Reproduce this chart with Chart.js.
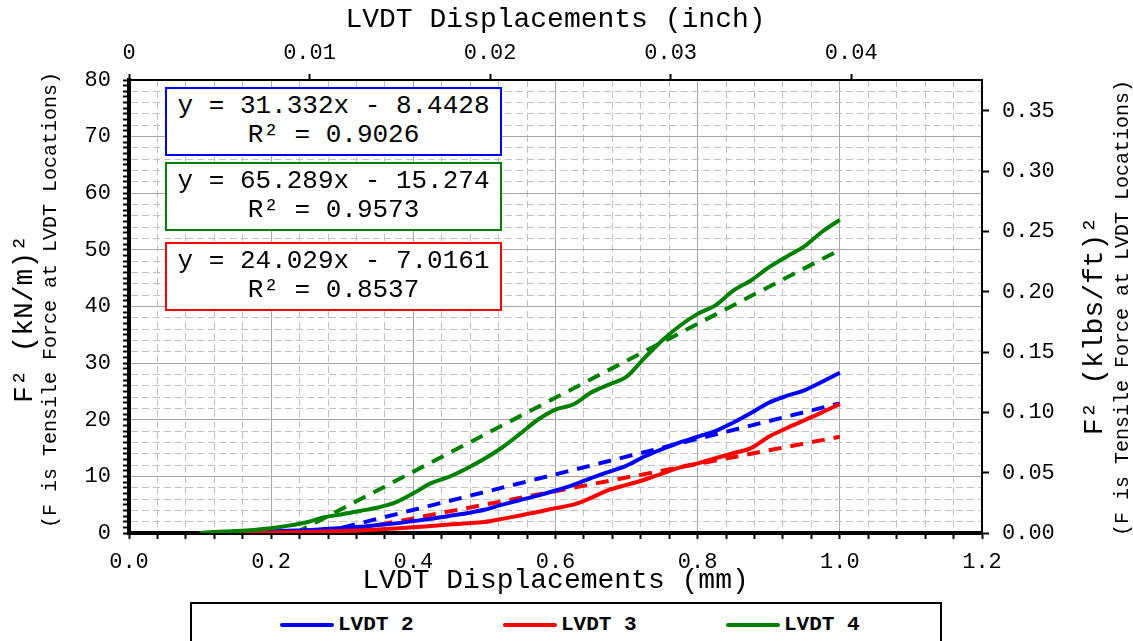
<!DOCTYPE html>
<html>
<head>
<meta charset="utf-8">
<script src="https://cdn.jsdelivr.net/npm/chart.js@4.4.0/dist/chart.umd.min.js"></script>
<style>
  html, body { margin: 0; padding: 0; background: #fff; }
  #wrap { position: relative; width: 1133px; height: 641px; overflow: hidden; }
  #wrap canvas { position: absolute; left: 0; top: 0; }
  .eq {
    position: absolute; left: 165px; width: 337px; height: 69px;
    box-sizing: border-box; border: 2px solid; background: #fff;
    font: 26px 'Liberation Mono', monospace; line-height: 29px;
    text-align: center; padding-top: 3px; color: #000; white-space: pre;
  }
  #legend {
    position: absolute; left: 190px; top: 602px; width: 752px; height: 60px;
    box-sizing: border-box; border: 2px solid #000; background: #fff;
  }
  .item { position: absolute; top: 9px; height: 24px; font: bold 21px 'Liberation Mono', monospace; line-height: 24px; color: #000; }
  .item i { position: absolute; left: 0; top: 10px; width: 54px; height: 4px; border-radius: 2px; }
  .item span { position: absolute; left: 58px; top: 0; white-space: pre; }
</style>
</head>
<body>
<div id="wrap">
  <canvas id="lvdtChart" width="1133" height="641"></canvas>
  <div id="boxes"></div>
  <div id="legend"></div>
</div>
<script>
// displacement (mm) where the curves were read
const displacement = [0.100, 0.125, 0.150, 0.175, 0.200, 0.225, 0.250, 0.275, 0.300, 0.325,
  0.350, 0.375, 0.400, 0.425, 0.450, 0.475, 0.500, 0.525, 0.550, 0.575,
  0.600, 0.625, 0.650, 0.675, 0.700, 0.725, 0.750, 0.775, 0.800, 0.825,
  0.850, 0.875, 0.900, 0.925, 0.950, 0.975, 1.000];

// F^2 (kN/m)^2
const lvdt2 = [0.0, 0.05, 0.1, 0.2, 0.3, 0.4, 0.5, 0.7, 0.9, 1.1,
  1.4, 1.7, 2.1, 2.5, 3.0, 3.5, 4.1, 5.0, 5.8, 6.6,
  7.5, 8.5, 9.7, 10.8, 11.9, 13.5, 14.8, 16.0, 17.0, 18.0,
  19.5, 21.2, 23.0, 24.2, 25.2, 26.7, 28.3];
const lvdt3 = [0.0, 0.0, 0.02, 0.05, 0.08, 0.12, 0.17, 0.25, 0.35, 0.45,
  0.6, 0.8, 1.0, 1.25, 1.5, 1.7, 1.95, 2.5, 3.1, 3.7,
  4.4, 5.0, 6.2, 7.6, 8.5, 9.4, 10.5, 11.6, 12.3, 13.2,
  14.1, 15.0, 17.0, 18.5, 19.9, 21.3, 22.8];
const lvdt4 = [0.0, 0.2, 0.35, 0.55, 0.85, 1.3, 1.9, 2.8, 3.3, 3.9,
  4.5, 5.4, 7.0, 8.8, 9.9, 11.4, 13.1, 15.1, 17.5, 20.0,
  21.8, 22.7, 24.8, 26.2, 27.6, 30.9, 34.0, 36.6, 38.7, 40.2,
  42.8, 44.6, 46.9, 48.8, 50.6, 53.2, 55.3];

// linear trend lines (start and end points)
const trend2X = [0.270, 1.000], trend2Y = [0, 22.9];
const trend3X = [0.292, 1.000], trend3Y = [0, 17.0];
const trend4X = [0.234, 1.000], trend4Y = [0, 50.0];

const trendText = [
  ['y = 31.332x - 8.4428', 'R² = 0.9026'],
  ['y = 65.289x - 15.274', 'R² = 0.9573'],
  ['y = 24.029x - 7.0161', 'R² = 0.8537']
];
const seriesNames = ['LVDT 2', 'LVDT 3', 'LVDT 4'];

const BLUE = '#0000ff', RED = '#ff0000', GREEN = '#008000';
const FONT = "'Liberation Mono', monospace";
const MM_PER_INCH = 25.4;
const KNM2_TO_KLBSFT2 = 0.0046953;  // (kN/m)^2 -> (klbs/ft)^2

const pts = (xs, ys) => xs.map((x, i) => ({ x: x, y: ys[i] }));
const onStep = (v, step) => Math.abs(v / step - Math.round(v / step)) < 1e-6;

function solid(label, data, color) {
  return { label, data, borderColor: color, backgroundColor: color, borderWidth: 4,
    pointRadius: 0, cubicInterpolationMode: 'monotone', fill: false };
}
function dashed(data, color) {
  return { label: '', data, borderColor: color, borderWidth: 4, borderDash: [13, 9],
    pointRadius: 0, tension: 0, fill: false };
}

const tickFont = { family: FONT, size: 22 };

const titlesPlugin = {
  id: 'titles',
  afterDraw(chart) {
    const c = chart.ctx, a = chart.chartArea;
    const mid = (a.left + a.right) / 2;
    c.save();
    c.fillStyle = '#000';
    c.textAlign = 'center';
    c.textBaseline = 'middle';
    c.font = '28px ' + FONT;
    c.fillText('LVDT Displacements (inch)', mid, 20);
    c.fillText('LVDT Displacements (mm)', mid, 581);
    const vert = (txt, x, y, size) => {
      c.save();
      c.translate(x, y);
      c.rotate(-Math.PI / 2);
      c.font = size + 'px ' + FONT;
      c.fillText(txt, 0, 0);
      c.restore();
    };
    vert('F² (kN/m)²', 25, 319, 28);
    vert('(F is Tensile Force at LVDT Locations)', 51, 300, 20);
    vert('F² (klbs/ft)²', 1095, 326, 28);
    vert('(F is Tensile Force at LVDT Locations)', 1123, 308, 20);
    c.restore();
  }
};

const chart = new Chart(document.getElementById('lvdtChart'), {
  type: 'line',
  data: {
    datasets: [
      solid(seriesNames[2], pts(displacement, lvdt4), GREEN),
      solid(seriesNames[1], pts(displacement, lvdt3), RED),
      solid(seriesNames[0], pts(displacement, lvdt2), BLUE),
      dashed(pts(trend4X, trend4Y), GREEN),
      dashed(pts(trend3X, trend3Y), RED),
      dashed(pts(trend2X, trend2Y), BLUE)
    ]
  },
  options: {
    responsive: false,
    animation: false,
    devicePixelRatio: 1,
    layout: { padding: 0 },
    plugins: { legend: { display: false }, tooltip: { enabled: false } },
    scales: {
      x: {
        type: 'linear', position: 'bottom', min: 0, max: 1.2,
        afterFit: s => { s.height = 108; },
        ticks: {
          stepSize: 0.04, autoSkip: false, maxRotation: 0, color: '#000', font: tickFont, padding: 10,
          callback: v => onStep(v, 0.2) ? v.toFixed(1) : ''
        },
        grid: {
          color: ctx => ctx.tick && onStep(ctx.tick.value, 0.2) ? '#a8a8a8' : '#c2c2c2',
          lineWidth: 1, tickColor: '#000', tickLength: 6, tickWidth: 2
        },
        border: { color: '#000', width: 4, dash: ctx => (ctx.tick && !onStep(ctx.tick.value, 0.2)) ? [7, 4] : [] }
      },
      x2: {
        type: 'linear', position: 'top', min: 0, max: 1.2 / MM_PER_INCH,
        afterFit: s => { s.height = 80; },
        ticks: {
          stepSize: 0.01, includeBounds: false, autoSkip: false, maxRotation: 0, color: '#000', font: tickFont, padding: 8,
          callback: v => v === 0 ? '0' : v.toFixed(2)
        },
        grid: { drawOnChartArea: false, tickColor: '#000', tickLength: 6, tickWidth: 2 },
        border: { color: '#000', width: 2 }
      },
      y: {
        type: 'linear', position: 'left', min: 0, max: 80,
        afterFit: s => { s.width = 129; },
        ticks: {
          stepSize: 1, autoSkip: false, color: '#000', font: tickFont, padding: 12,
          callback: v => onStep(v, 10) ? String(v) : ''
        },
        grid: {
          color: ctx => {
            if (!ctx.tick) return '#c2c2c2';
            const v = ctx.tick.value;
            if (onStep(v, 10)) return '#a8a8a8';
            return onStep(v, 2) ? '#c2c2c2' : 'rgba(0,0,0,0)';
          },
          lineWidth: 1, tickColor: '#000', tickLength: 6, tickWidth: 2
        },
        border: { color: '#000', width: 4, dash: ctx => (ctx.tick && !onStep(ctx.tick.value, 10)) ? [7, 4] : [] }
      },
      y2: {
        type: 'linear', position: 'right', min: 0, max: 80 * KNM2_TO_KLBSFT2, bounds: 'data',
        afterFit: s => { s.width = 151; },
        ticks: {
          stepSize: 0.05, includeBounds: false, autoSkip: false, color: '#000', font: tickFont, padding: 13,
          callback: v => v.toFixed(2)
        },
        grid: { drawOnChartArea: false, tickColor: '#000', tickLength: 7, tickWidth: 2 },
        border: { color: '#000', width: 2 }
      }
    }
  },
  plugins: [titlesPlugin]
});

// trend equation boxes
const boxTops = [87, 162, 242];
const boxColors = [BLUE, GREEN, RED];
const boxesEl = document.getElementById('boxes');
trendText.forEach((lines, i) => {
  const el = document.createElement('div');
  el.className = 'eq';
  el.style.top = boxTops[i] + 'px';
  el.style.borderColor = boxColors[i];
  el.textContent = lines.join('\n');
  boxesEl.appendChild(el);
});

// legend
const legendEl = document.getElementById('legend');
const legendColors = [BLUE, RED, GREEN];
seriesNames.forEach((name, i) => {
  const el = document.createElement('div');
  el.className = 'item';
  el.style.left = (88 + i * 223) + 'px';
  el.innerHTML = `<i style="background:${legendColors[i]}"></i><span>${name}</span>`;
  legendEl.appendChild(el);
});
</script>
</body>
</html>
